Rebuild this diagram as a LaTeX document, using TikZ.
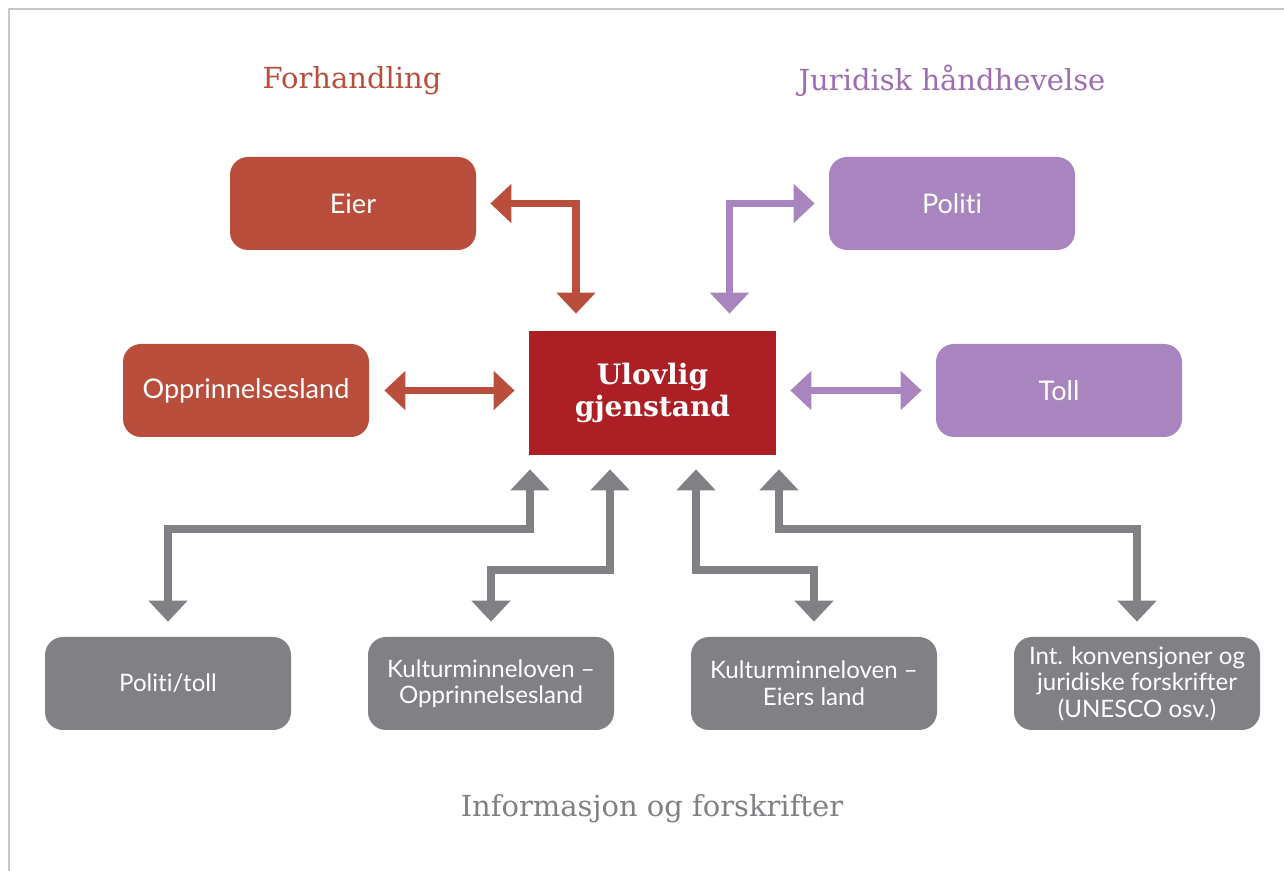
\documentclass[tikz,border=0pt]{standalone}
\usepackage{fontspec}
\setmainfont{DejaVu Serif}
\newfontfamily\boxfont[Ligatures={NoCommon}]{Lato}
\usetikzlibrary{arrows.meta}

\definecolor{forhred}{HTML}{B94E3C}
\definecolor{mainred}{HTML}{AC1F24}
\definecolor{jurpurple}{HTML}{A885BE}
\definecolor{jurtitle}{HTML}{9C6DB2}
\definecolor{infogray}{HTML}{808085}
\definecolor{framegray}{HTML}{C8C8C8}

\begin{document}
\begin{tikzpicture}[
	box/.style={rounded corners=0.36cm, minimum width=4.92cm, minimum height=1.86cm,
		align=center, text=white, font=\boxfont\fontsize{15.4}{17}\selectfont, inner sep=0pt},
	redbox/.style={box, fill=forhred},
	purplebox/.style={box, fill=jurpurple},
	graybox/.style={box, fill=infogray, font=\boxfont\fontsize{13.7}{15.1}\selectfont},
	link/.style={line width=0.15cm, {Triangle[width=0.76cm,length=0.42cm]}-{Triangle[width=0.76cm,length=0.42cm]}},
	redlink/.style={link, draw=forhred},
	purplelink/.style={link, draw=jurpurple},
	graylink/.style={link, draw=infogray},
	heading/.style={font=\fontsize{16.5}{19}\selectfont}
]
			\useasboundingbox (0,0) rectangle (25.68,-17.42);
			\draw[framegray, line width=0.03cm] (0.18,-17.42) -- (0.18,-0.18) -- (25.68,-0.18);

			\node[heading, text=forhred] (forh) at (7.04,-1.62) {Forhandling};
			\node[heading, text=jurtitle] (jur) at (19.04,-1.62) {Juridisk håndhevelse};
			\node[heading, text=infogray] (info) at (13.04,-16.18) {Informasjon og forskrifter};

			\node[fill=mainred, minimum width=4.94cm, minimum height=2.48cm, inner sep=0pt,
				align=center, text=white, font=\bfseries\fontsize{16}{18.5}\selectfont]
				(gjenstand) at (13.05,-7.86) {Ulovlig\\gjenstand};

			\node[redbox] (eier) at (7.06,-4.07) {Eier};
			\node[redbox] (opprland) at (4.92,-7.81) {Opprinnelsesland};
			\node[purplebox] (politi) at (19.04,-4.07) {Politi};
			\node[purplebox] (toll) at (21.18,-7.81) {Toll};

			\node[graybox] (polititoll) at (3.36,-13.67) {Politi/toll};
			\node[graybox] (kulturoppr) at (9.82,-13.67) {Kulturminneloven –\\Opprinnelsesland};
			\node[graybox] (kultureier) at (16.28,-13.67) {Kulturminneloven –\\Eiers land};
			\node[graybox] (konvensjoner) at (22.74,-13.67) {Int. konvensjoner og\\juridiske forskrifter\\(UNESCO osv.)};

			\draw[redlink] ([xshift=0.28cm]eier.east) -| ([xshift=-1.53cm,yshift=0.34cm]gjenstand.north);
			\draw[purplelink] ([xshift=-0.28cm]politi.west) -| ([xshift=1.54cm,yshift=0.34cm]gjenstand.north);
			\draw[redlink] ([xshift=0.3cm]opprland.east) -- ([xshift=-0.28cm]opprland.east -| gjenstand.west);
			\draw[purplelink] ([xshift=0.28cm]toll.west -| gjenstand.east) -- ([xshift=-0.28cm]toll.west);

			\draw[graylink] ([xshift=-2.45cm,yshift=-0.28cm]gjenstand.south) -- ++(0,-1.19) -| ([yshift=0.3cm]polititoll.north);
			\draw[graylink] ([xshift=-0.85cm,yshift=-0.28cm]gjenstand.south) -- ++(0,-2.01) -| ([yshift=0.3cm]kulturoppr.north);
			\draw[graylink] ([xshift=0.87cm,yshift=-0.28cm]gjenstand.south) -- ++(0,-2.01) -| ([yshift=0.3cm]kultureier.north);
			\draw[graylink] ([xshift=2.53cm,yshift=-0.28cm]gjenstand.south) -- ++(0,-1.19) -| ([yshift=0.3cm]konvensjoner.north);
		\end{tikzpicture}
\end{document}
